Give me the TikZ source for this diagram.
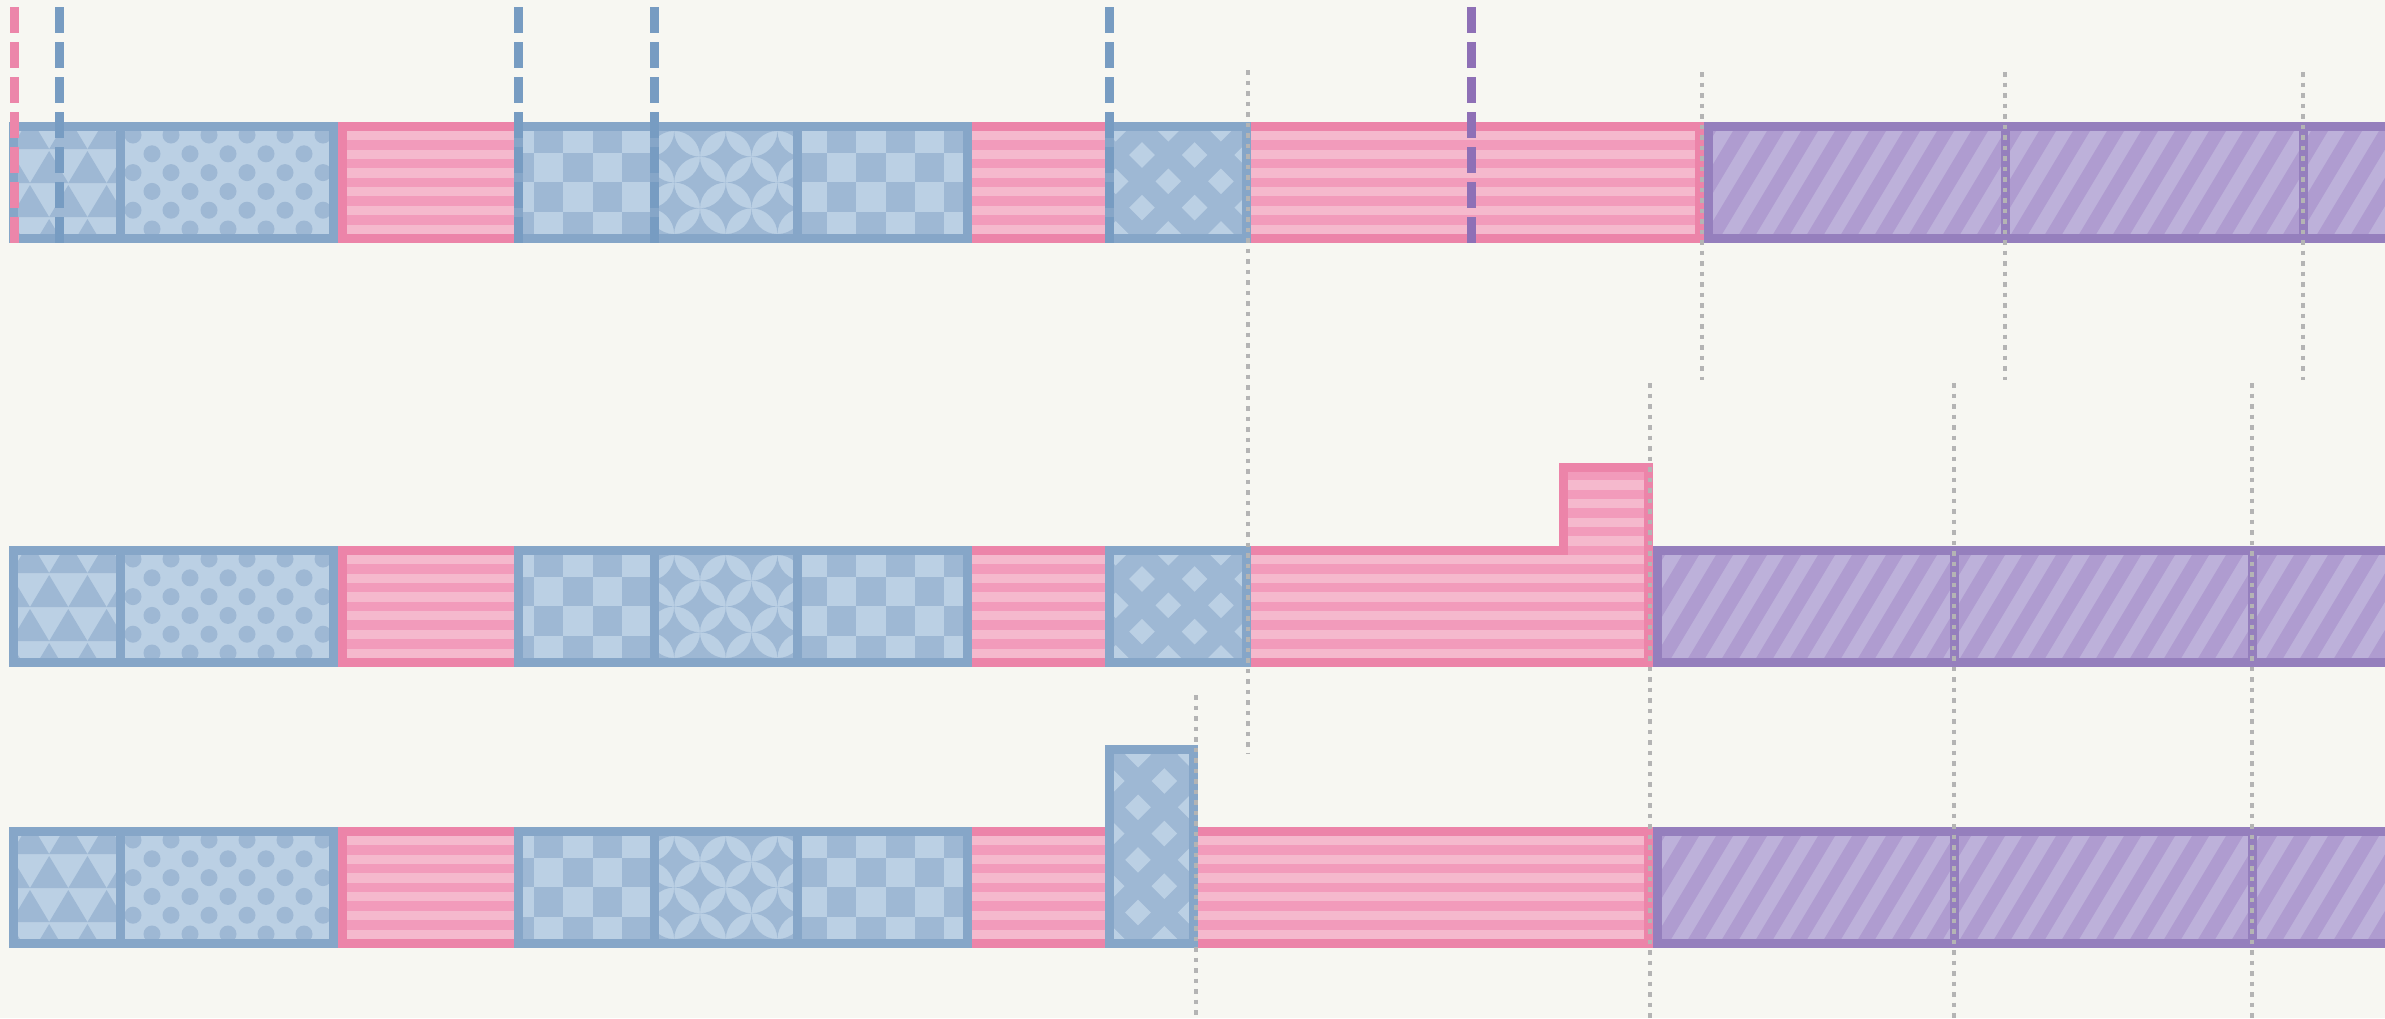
\documentclass[tikz,border=0pt]{standalone}
\definecolor{bg}{HTML}{F7F7F2}
\definecolor{bstroke}{HTML}{86A6C8}
\definecolor{blight}{HTML}{BBD0E4}
\definecolor{bdark}{HTML}{9EB8D4}
\definecolor{pstroke}{HTML}{EC84A9}
\definecolor{plight}{HTML}{F5B9CD}
\definecolor{pdark}{HTML}{F29BBB}
\definecolor{vstroke}{HTML}{957FBD}
\definecolor{vlight}{HTML}{BDB1DA}
\definecolor{vdark}{HTML}{AF9CD0}
\definecolor{dashpink}{HTML}{EC86AA}
\definecolor{dashblue}{HTML}{779CC2}
\definecolor{dashviolet}{HTML}{8E70B6}
\definecolor{dotgray}{HTML}{B4B4B4}
\tikzset{
  bluebox/.style={draw=bstroke, line width=9pt},
  pinkbox/.style={draw=pstroke, line width=9pt, line join=miter},
  violetbox/.style={draw=vstroke, line width=9pt},
  marker/.style={line width=9pt, dash pattern=on 26.3pt off 8.7pt},
  guide/.style={draw=dotgray, line width=4.7pt, dash pattern=on 4.7pt off 5.8pt},
}
\newcommand\pinkfill[1]{%
  \begin{scope}
    \clip #1;
    \fill[plight] (300,0) rectangle (1800,300);
    \foreach \k in {-6,...,5}{\fill[pdark] (300,{140.3+18.7*\k}) rectangle (1800,{149.7+18.7*\k});}
  \end{scope}
  \draw[pinkbox] #1;}
\newcommand\checkerfill[4]{%
  \fill[blight] (#1,126.5) rectangle (#2,238.5);
  \begin{scope}
    \clip (#1,126.5) rectangle (#2,238.5);
    \foreach \j in {-1,...,3}{\foreach \i in {#3,...,#4}{%
      \pgfmathtruncatemacro\chkpar{mod(\i+\j+40,2)}%
      \ifnum\chkpar=1 \fill[bdark] ({534+29.3*\i},{153+29.3*\j}) rectangle ++(29.3,29.3);\fi
    }}
  \end{scope}}
\newcommand\latticefill[6]{%
  \fill[bdark] (#1,#2) rectangle (#3,#4);
  \begin{scope}
    \clip (#1,#2) rectangle (#3,#4);
    \foreach \i in {-1,...,3}{\foreach \j in {-2,...,4}{\foreach \dd in {0,26.3}{%
      \fill[blight] ({#5+52.6*\i+\dd-12.8},{#6+52.6*\j+\dd}) -- ++(12.8,-12.8) -- ++(12.8,12.8) -- ++(-12.8,12.8) -- cycle;
    }}}
  \end{scope}
  \draw[bluebox] (#1,#2) rectangle (#3,#4);}
\newcommand\purplefill[4]{% start, phase, divider1, divider2
  \begin{scope}
    \clip (#1,126.5) rectangle (2400,238.5);
    \fill[vlight] (#1,126.5) rectangle (2400,238.5);
    \foreach \k in {-4,...,23}{%
      \fill[vdark] ({#2+34*\k+18.6},100) -- ({#2+34*\k+35.6},100) -- ({#2+34*\k-54.4},250) -- ({#2+34*\k-71.4},250) -- cycle;
    }
  \end{scope}
  \draw[violetbox] (#1,126.5) rectangle (2600,238.5);
  \draw[violetbox] (#3,126.5) -- (#3,238.5);
  \draw[violetbox] (#4,126.5) -- (#4,238.5);}
\newcommand\leftgroup{%
  % triangles
  \fill[blight] (13.8,126.5) rectangle (120,238.5);
  \begin{scope}
    \clip (13.8,126.5) rectangle (120,238.5);
    \foreach \yb/\xo in {116/49.15,150/30,184/49.15,218/30,252/49.15}{%
      \foreach \k in {-1,...,3}{%
        \fill[bdark] ({\xo+38.3*\k-19.15},{\yb-1}) -- ({\xo+38.3*\k},{\yb-33}) -- ({\xo+38.3*\k+19.15},{\yb-1}) -- cycle;
      }}
  \end{scope}
  % dots
  \fill[blight] (120,126.5) rectangle (333.5,238.5);
  \begin{scope}
    \clip (120,126.5) rectangle (333.5,238.5);
    \foreach \j in {-1,...,3}{\foreach \k in {0,...,5}{%
      \fill[bdark] ({133+38*\k},{135+37.6*\j}) circle (8.5pt);
      \fill[bdark] ({152+38*\k},{153.8+37.6*\j}) circle (8.5pt);
    }}
  \end{scope}
  \draw[bluebox] (13.8,126.5) rectangle (333.5,238.5);
  \draw[bluebox] (120,126.5) -- (120,238.5);}
\newcommand\midgroup{%
  \checkerfill{518.5}{654}{-2}{5}
  % flowers
  \fill[blight] (654,126.5) rectangle (797,238.5);
  \begin{scope}
    \clip (654,126.5) rectangle (797,238.5);
    \fill[bdark, even odd rule] \foreach \i in {-1,...,3}{\foreach \j in {-2,...,2}{
      ({674.2+51.6*\i},{156.7+51.6*\j}) circle (25.8pt) ({700+51.6*\i},{182.5+51.6*\j}) circle (25.8pt)}};
  \end{scope}
  \checkerfill{797}{967.5}{7}{16}
  \draw[bluebox] (518.5,126.5) rectangle (967.5,238.5);
  \draw[bluebox] (654,126.5) -- (654,238.5);
  \draw[bluebox] (797,126.5) -- (797,238.5);}
\begin{document}
\begin{tikzpicture}[x=1pt,y=-1pt]
\fill[bg] (0,0) rectangle (2385,1018);
\useasboundingbox (0,0) rectangle (2385,1018);

% ---------- row 1 ----------
\begin{scope}
  \leftgroup
  \pinkfill{(342.5,126.5) rectangle (1699.5,238.5)}
  \midgroup
  \latticefill{1109.5}{126.5}{1246.5}{238.5}{1142}{155}
  \purplefill{1708.5}{1733}{2005.5}{2303.5}
\end{scope}

% ---------- row 2 ----------
\begin{scope}[shift={(0,424)}]
  \leftgroup
  \pinkfill{(342.5,126.5) -- (1563.5,126.5) -- (1563.5,43.5) -- (1648.5,43.5) -- (1648.5,238.5) -- (342.5,238.5) -- cycle}
  \midgroup
  \latticefill{1109.5}{126.5}{1246.5}{238.5}{1142}{155}
  \purplefill{1657.5}{1682}{1954}{2252}
\end{scope}

% ---------- row 3 ----------
\begin{scope}[shift={(0,705)}]
  \leftgroup
  \pinkfill{(342.5,126.5) rectangle (1648.5,238.5)}
  \midgroup
  \latticefill{1109.5}{44.5}{1193.5}{238.5}{1138}{49.7}
  \purplefill{1657.5}{1682}{1954}{2252}
\end{scope}

% ---------- gray dotted guides ----------
\draw[guide] (1248,70) -- (1248,753);
\draw[guide] (1702,72) -- (1702,380);
\draw[guide] (2005,72) -- (2005,380);
\draw[guide] (2303,72) -- (2303,380);
\draw[guide] (1650,383) -- (1650,1018);
\draw[guide] (1954,383) -- (1954,1018);
\draw[guide] (2252,383) -- (2252,1018);
\draw[guide] (1196,695) -- (1196,1018);

% ---------- coloured dashed markers ----------
\draw[marker, dashpink] (14,7) -- (14,243);
\draw[marker, dashblue] (59.5,7) -- (59.5,243);
\draw[marker, dashblue] (518.3,7) -- (518.3,243);
\draw[marker, dashblue] (654.2,7) -- (654.2,243);
\draw[marker, dashblue] (1109.2,7) -- (1109.2,243);
\draw[marker, dashviolet] (1471,7) -- (1471,243);
\end{tikzpicture}
\end{document}
